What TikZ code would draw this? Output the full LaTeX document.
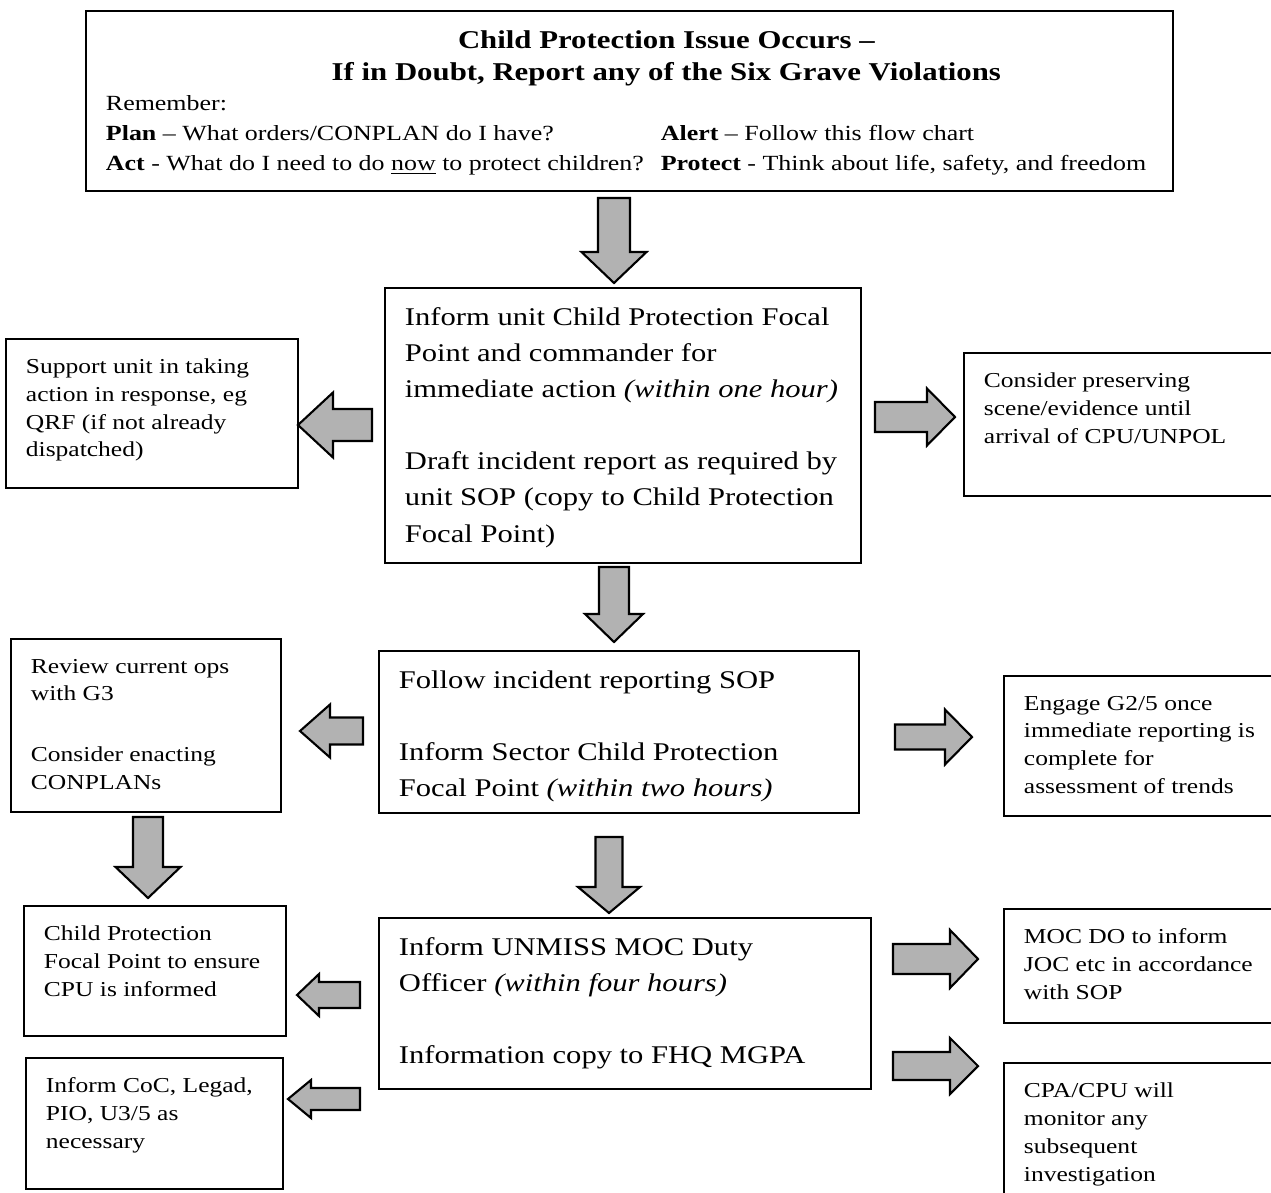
\documentclass[tikz,border=0pt]{standalone}
\usepackage{fontspec}
\setmainfont{Liberation Serif}[FakeStretch=1.2]

\newcommand{\mainsize}{\fontsize{14.5pt}{20.5pt}\selectfont}
\newcommand{\sidesize}{\fontsize{12.1pt}{15.8pt}\selectfont}
\newcommand{\titlesize}{\fontsize{14.6pt}{18.2pt}\selectfont\bfseries}
\newcommand{\topsize}{\fontsize{12.3pt}{17pt}\selectfont}

% block arrows: tail x, centre y, length, head width, shaft width, head length
\newcommand{\harrow}[6]{\draw[blockarrow] (#1,{#2-(#5)/2}) -- ({#1+(#3)-(#6)},{#2-(#5)/2}) -- ({#1+(#3)-(#6)},{#2-(#4)/2}) -- ({#1+(#3)},#2) -- ({#1+(#3)-(#6)},{#2+(#4)/2}) -- ({#1+(#3)-(#6)},{#2+(#5)/2}) -- (#1,{#2+(#5)/2}) -- cycle;}
\newcommand{\varrow}[6]{\draw[blockarrow] ({#1-(#5)/2},#2) -- ({#1-(#5)/2},{#2+(#3)-(#6)}) -- ({#1-(#4)/2},{#2+(#3)-(#6)}) -- (#1,{#2+(#3)}) -- ({#1+(#4)/2},{#2+(#3)-(#6)}) -- ({#1+(#5)/2},{#2+(#3)-(#6)}) -- ({#1+(#5)/2},#2) -- cycle;}

\tikzset{
	flowbox/.style={draw, line width=1.1pt, anchor=north west, inner sep=0.4cm, font=\mainsize},
	sidebox/.style={flowbox, font=\sidesize},
	blockarrow/.style={draw, line width=1.2pt, fill=gray!60, line join=miter}
}

\begin{document}
\begin{tikzpicture}[x=0.02cm, y=-0.02cm]
	\useasboundingbox (0,0) rectangle (1271,1193);
	\clip (0,0) rectangle (1271,1193);
	% top box
	\node[flowbox] (issue) at (85,10) {\parbox[t][2.8cm][t]{20.94cm}{\centering\titlesize
		\hspace*{1.48cm}Child Protection Issue Occurs --\\
		\hspace*{1.48cm}If in Doubt, Report any of the Six Grave Violations\par
		\raggedright\normalfont\topsize Remember:\\
		\makebox[11.1cm][l]{\textbf{Plan} -- What orders/CONPLAN do I have?}\textbf{Alert} -- Follow this flow chart\\
		\makebox[11.1cm][l]{\textbf{Act} - What do I need to do \underline{now} to protect children?}\textbf{Protect} - Think about life, safety, and freedom}};
	% middle column
	\node[flowbox] (inform) at (384,287) {\parbox[t][4.7cm][t]{8.72cm}{\raggedright
		Inform unit Child Protection Focal\\ Point and commander for\\ immediate action \textit{(within one hour)}\\[\baselineskip]
		Draft incident report as required by\\ unit SOP (copy to Child Protection\\ Focal Point)}};
	\node[flowbox] (follow) at (378,650) {\parbox[t][2.44cm][t]{8.8cm}{\raggedright
		Follow incident reporting SOP\\[\baselineskip]
		Inform Sector Child Protection\\ Focal Point \textit{(within two hours)}}};
	\node[flowbox] (moc) at (378,917) {\parbox[t][2.62cm][t]{9.04cm}{\raggedright
		Inform UNMISS MOC Duty\\ Officer \textit{(within four hours)}\\[\baselineskip]
		Information copy to FHQ MGPA}};
	% left column
	\node[sidebox] (support) at (5,338) {\parbox[t][2.18cm][t]{5.04cm}{\raggedright
		Support unit in taking\\ action in response, eg\\ QRF (if not already\\ dispatched)}};
	\node[sidebox] (review) at (10,638) {\parbox[t][2.66cm][t]{4.6cm}{\raggedright
		Review current ops\\ with G3\\[1.2\baselineskip]
		Consider enacting\\ CONPLANs}};
	\node[sidebox] (ensure) at (23,905) {\parbox[t][1.8cm][t]{4.44cm}{\raggedright
		Child Protection\\ Focal Point to ensure\\ CPU is informed}};
	\node[sidebox] (coc) at (25,1057) {\parbox[t][1.82cm][t]{4.34cm}{\raggedright
		Inform CoC, Legad,\\ PIO, U3/5 as\\ necessary}};
	% right column
	\node[sidebox] (preserve) at (963,352) {\parbox[t][2.06cm][t]{5.64cm}{\raggedright
		Consider preserving\\ scene/evidence until\\ arrival of CPU/UNPOL}};
	\node[sidebox] (engage) at (1003,675) {\parbox[t][2cm][t]{4.84cm}{\raggedright
		Engage G2/5 once\\ immediate reporting is\\ complete for\\ assessment of trends}};
	\node[sidebox] (mocdo) at (1003,908) {\parbox[t][1.48cm][t]{4.84cm}{\raggedright
		MOC DO to inform\\ JOC etc in accordance\\ with SOP}};
	\node[sidebox] (monitor) at (1003,1062) {\parbox[t][2.16cm][t]{4.84cm}{\raggedright
		CPA/CPU will\\ monitor any\\ subsequent\\ investigation}};
	% arrows
	\varrow{614}{198}{85}{65}{32}{31}
	\varrow{614}{567}{75}{58}{30}{28}
	\varrow{609}{837}{76}{62}{27}{26}
	\varrow{148}{817}{81}{65}{30}{31}
	\harrow{372}{425}{-74}{65}{32}{-35}
	\harrow{875}{417}{80}{57}{30}{28}
	\harrow{363}{731}{-63}{53}{27}{-30}
	\harrow{895}{737}{77}{55}{25}{27}
	\harrow{360}{995}{-63}{42}{26}{-22}
	\harrow{360}{1099}{-72}{38}{22}{-23}
	\harrow{893}{959}{85}{58}{30}{28}
	\harrow{893}{1066}{85}{56}{28}{28}
\end{tikzpicture}
\end{document}
